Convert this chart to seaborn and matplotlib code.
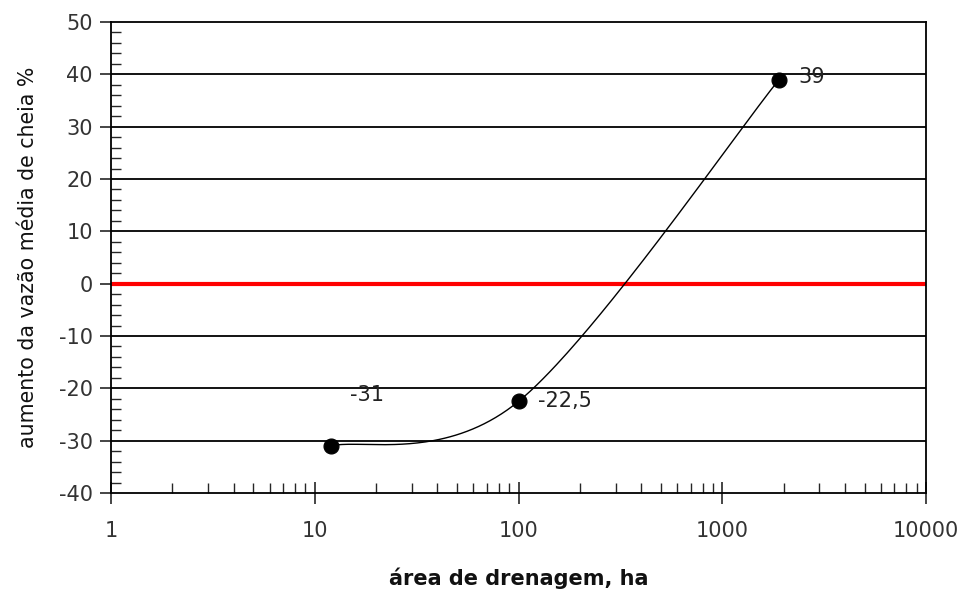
import numpy as np
import pandas as pd
import matplotlib
matplotlib.use("Agg")
import matplotlib.pyplot as plt
import seaborn as sns
from matplotlib.ticker import FixedLocator, LogLocator, NullFormatter, MultipleLocator

# Observed points: drainage area (ha) vs. change in mean flood discharge (%)
area_ha = [12, 100, 1900]
increase_pct = [-31, -22.5, 39]
point_labels = ["-31", "-22,5", "39"]

x_ticks = [1, 10, 100, 1000, 10000]
x_tick_labels = ["1", "10", "100", "1000", "10000"]
y_ticks = [-40, -30, -20, -10, 0, 10, 20, 30, 40, 50]


def smooth_curve(xs, ys, n=80):
    """Spreadsheet-style smoothed line: cubic Bezier segments in (log10 x, y)."""
    px = np.log10(np.asarray(xs, float))
    py = np.asarray(ys, float)
    P = np.column_stack([px, py])
    m = len(P)
    out = []
    for i in range(m - 1):
        prev = P[i - 1] if i > 0 else P[i]
        nxt = P[i + 2] if i + 2 < m else P[i + 1]
        c1 = P[i] + (P[i + 1] - prev) / 6.0
        c2 = P[i + 1] - (nxt - P[i]) / 6.0
        t = np.linspace(0, 1, n)[:, None]
        seg = ((1 - t) ** 3) * P[i] + 3 * ((1 - t) ** 2) * t * c1 \
            + 3 * (1 - t) * t ** 2 * c2 + t ** 3 * P[i + 1]
        out.append(seg if i == 0 else seg[1:])
    seg = np.vstack(out)
    return 10 ** seg[:, 0], seg[:, 1]


sns.set_theme(style="white")
plt.rcParams["font.family"] = ["DejaVu Sans"]

fig = plt.figure(figsize=(9.65, 5.93), dpi=100)
ax = fig.add_axes([111 / 965, 1 - 493 / 593, (926 - 111) / 965, (493 - 22) / 593])

ax.set_xscale("log")
ax.set_xlim(1, 10000)
ax.set_ylim(-40, 50)

# horizontal grid
for yv in y_ticks:
    if yv in (-40, 0, 50):
        continue
    ax.axhline(yv, color="black", lw=1.3, zorder=1)

# zero reference line
ax.axhline(0, color="#ff0000", lw=3.0, zorder=2)

cx, cy = smooth_curve(area_ha, increase_pct)
curve = pd.DataFrame({"area": cx, "pct": cy})
sns.lineplot(data=curve, x="area", y="pct", ax=ax, color="black", lw=1.0,
             sort=False, zorder=3)

pts = pd.DataFrame({"area": area_ha, "pct": increase_pct})
sns.scatterplot(data=pts, x="area", y="pct", ax=ax, color="black", s=115,
                edgecolor="black", zorder=4)

offsets = [(14, 37), (14, 0), (14, 2)]
for xv, yv, lab, off in zip(area_ha, increase_pct, point_labels, offsets):
    ax.annotate(lab, (xv, yv), xytext=off, textcoords="offset points",
                ha="left", va="center", fontsize=15, color="#222222")

# axes frame
for s in ax.spines.values():
    s.set_visible(True)
    s.set_color("black")
    s.set_linewidth(1.3)

ax.xaxis.set_major_locator(FixedLocator(x_ticks))
ax.set_xticklabels(x_tick_labels)
ax.xaxis.set_minor_locator(LogLocator(base=10, subs=np.arange(2, 10)))
ax.xaxis.set_minor_formatter(NullFormatter())
ax.yaxis.set_major_locator(FixedLocator(y_ticks))
ax.set_yticklabels([str(v) for v in y_ticks])
ax.yaxis.set_minor_locator(MultipleLocator(2))

ax.tick_params(axis="x", which="major", direction="inout", length=16, width=1.2,
               labelsize=15, labelcolor="#333333", pad=12, bottom=True, top=False)
ax.tick_params(axis="x", which="minor", direction="in", length=7, width=1.0,
               bottom=True, top=False)
ax.tick_params(axis="y", which="major", direction="out", length=8, width=1.2,
               labelsize=15, labelcolor="#333333", pad=5, left=True, right=False)
ax.tick_params(axis="y", which="minor", direction="in", length=7, width=1.0,
               left=True, right=False)

ax.set_xlabel("área de drenagem, ha", fontsize=15, fontweight="bold",
              color="#111111", labelpad=19)
ax.set_ylabel("aumento da vazão média de cheia %", fontsize=14.8,
              color="#111111", labelpad=15)

fig.savefig("out.png", dpi=100)
